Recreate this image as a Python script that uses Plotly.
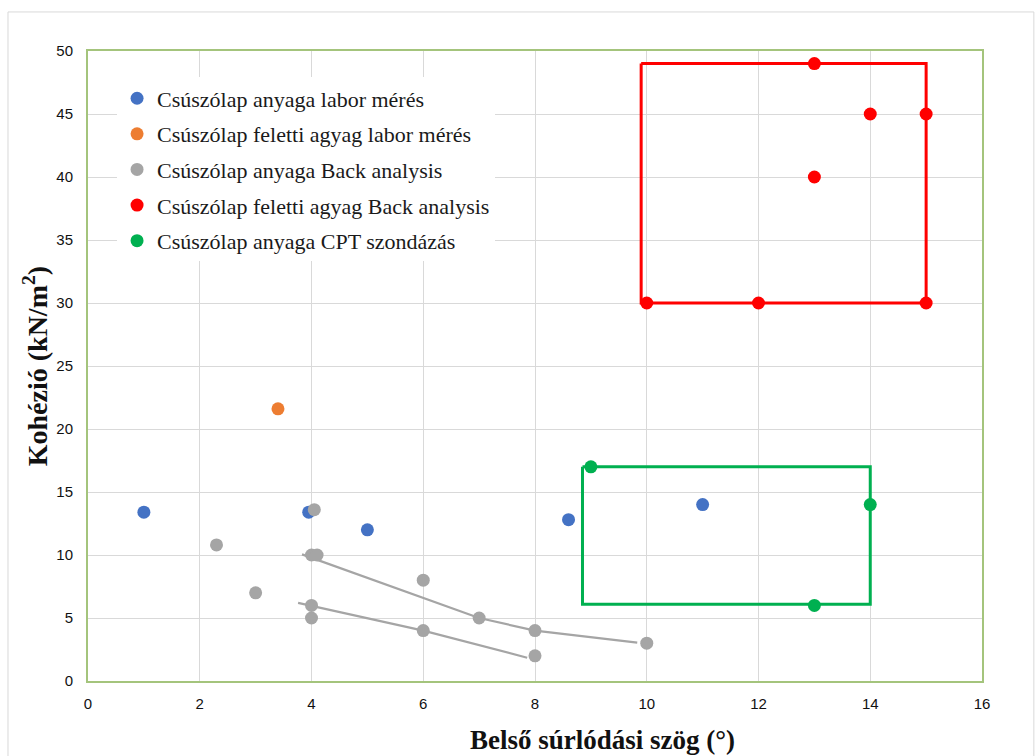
import plotly.graph_objects as go

# ---- data ----
blue_x = [1.0, 3.95, 5.0, 8.6, 11.0]
blue_y = [13.4, 13.4, 12.0, 12.8, 14.0]

orange_x = [3.4]
orange_y = [21.6]

gray_x = [2.3, 3.0, 4.0, 4.0, 4.0, 4.05, 4.1, 6.0, 6.0, 7.0, 8.0, 8.0, 10.0]
gray_y = [10.8, 7.0, 10.0, 6.0, 5.0, 13.6, 10.0, 8.0, 4.0, 5.0, 4.0, 2.0, 3.0]

red_x = [13, 14, 15, 13, 10, 12, 15]
red_y = [49, 45, 45, 40, 30, 30, 30]

green_x = [9, 14, 13]
green_y = [17, 14, 6]

# hand-drawn trend lines (gray)
lineA_x = [3.83, 7.0, 8.0, 9.83]
lineA_y = [10.05, 5.0, 4.0, 3.05]
lineB_x = [3.76, 6.0, 7.86]
lineB_y = [6.2, 4.0, 1.85]

# boxes
red_box_x = [9.9, 15.0, 15.0, 9.9, 9.9]
red_box_y = [49.0, 49.0, 30.0, 30.0, 49.0]
green_box_x = [8.85, 14.0, 14.0, 8.85, 8.85]
green_box_y = [17.0, 17.0, 6.1, 6.1, 17.0]

names = [
    "Csúszólap anyaga labor mérés",
    "Csúszólap feletti agyag labor mérés",
    "Csúszólap anyaga Back analysis",
    "Csúszólap feletti agyag Back analysis",
    "Csúszólap anyaga CPT szondázás",
]

x_ticks = list(range(0, 17, 2))
y_ticks = list(range(0, 51, 5))

fig = go.Figure()

for lx, ly in [(lineA_x, lineA_y), (lineB_x, lineB_y)]:
    fig.add_trace(go.Scatter(x=lx, y=ly, mode="lines", line=dict(color="#A5A5A5", width=2.2),
                             showlegend=False, hoverinfo="skip"))
fig.add_trace(go.Scatter(x=red_box_x, y=red_box_y, mode="lines", line=dict(color="#FF0000", width=3),
                         showlegend=False, hoverinfo="skip"))
fig.add_trace(go.Scatter(x=green_box_x, y=green_box_y, mode="lines", line=dict(color="#00B050", width=3),
                         showlegend=False, hoverinfo="skip"))

series = [
    (blue_x, blue_y, "#4472C4"),
    (orange_x, orange_y, "#ED7D31"),
    (gray_x, gray_y, "#A5A5A5"),
    (red_x, red_y, "#FF0000"),
    (green_x, green_y, "#00B050"),
]
for i, ((sx, sy, c), n) in enumerate(zip(series, names)):
    fig.add_trace(go.Scatter(x=sx, y=sy, mode="markers", name=n, legendgroup=f"g{i}",
                             marker=dict(color=c, size=13, line=dict(width=0))))

grid = "#D9D9D9"
border = "#A4C47C"
tickfont = dict(family="Liberation Sans", size=15, color="#111")
fig.update_layout(
    width=1035, height=756,
    margin=dict(l=88, r=53, t=51, b=75),
    paper_bgcolor="white", plot_bgcolor="white",
    showlegend=True,
    legend=dict(x=0.0325, y=0.958, xanchor="left", yanchor="top",
                bgcolor="white", borderwidth=0,
                font=dict(family="Liberation Serif", size=22, color="#1a1a1a"),
                tracegroupgap=4, itemwidth=30),
    xaxis=dict(range=[0, 16], tickvals=x_ticks, ticktext=[str(v) for v in x_ticks],
               showgrid=True, gridcolor=grid, gridwidth=1, zeroline=False,
               showline=True, linecolor=border, linewidth=2, mirror=True, ticks="",
               ticklabelstandoff=8, tickfont=tickfont),
    yaxis=dict(range=[0, 50], tickvals=y_ticks, ticktext=[str(v) for v in y_ticks],
               showgrid=True, gridcolor=grid, gridwidth=1, zeroline=False,
               showline=True, linecolor=border, linewidth=2, mirror=True, ticks="",
               ticklabelstandoff=10, tickfont=tickfont),
    shapes=[dict(type="rect", xref="paper", yref="paper", x0=-0.0895, x1=1.058, y0=-0.2, y1=1.062,
                 line=dict(color="#D9D9D9", width=1), layer="below")],
    annotations=[
        dict(text="<b>Belső súrlódási szög (°)</b>", xref="paper", yref="paper", x=0.576, y=-0.094,
             showarrow=False, xanchor="center", yanchor="middle",
             font=dict(family="Liberation Serif", size=27, color="#111")),
        dict(text="<b>Kohézió (kN/m<sup>2</sup>)</b>", xref="paper", yref="paper", x=-0.059, y=0.50,
             showarrow=False, xanchor="center", yanchor="middle", textangle=-90,
             font=dict(family="Liberation Serif", size=28, color="#111")),
    ],
)

fig.write_html("out.html")
